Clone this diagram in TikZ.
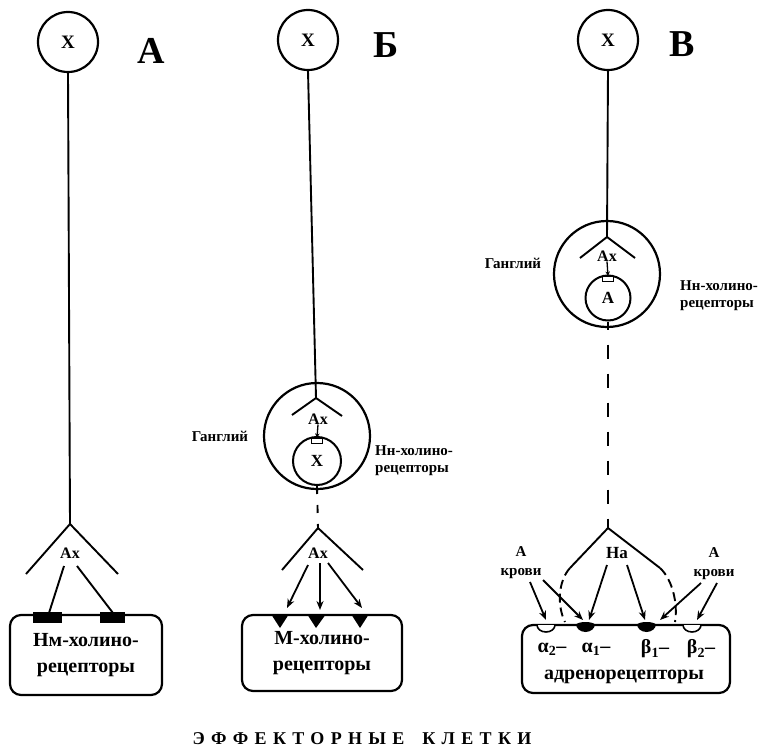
\documentclass[tikz,border=0pt]{standalone}
\usepackage{fontspec}
\setmainfont{Liberation Serif}
\newfontface\spacedbold[LetterSpace=35]{Liberation Serif Bold}
\usetikzlibrary{arrows.meta}
\tikzset{
  neur/.style={circle, draw, line width=2.2pt, inner sep=0pt},
  ax/.style={line width=1.9pt},
  cellbox/.style={draw, rounded corners=11pt, line width=2.2pt, inner sep=0pt, align=center},
  arr/.style={line width=1.8pt, -{Stealth[length=9pt,width=7pt]}},
  sarr/.style={line width=1.3pt, -{Stealth[length=4.5pt,width=4.5pt]}},
  fX/.style={font=\bfseries\fontsize{19}{19}\selectfont},
  fXs/.style={font=\bfseries\fontsize{17}{17}\selectfont},
  big/.style={font=\bfseries\fontsize{38}{38}\selectfont},
  axl/.style={font=\bfseries\fontsize{16}{16}\selectfont, inner sep=0pt},
  side/.style={font=\bfseries\fontsize{15}{17}\selectfont, align=left, inner sep=0pt},
  gangl/.style={font=\bfseries\fontsize{15}{17}\selectfont, inner sep=0pt},
  boxt/.style={font=\bfseries\fontsize{20}{26}\selectfont},
  rtxt/.style={font=\bfseries\fontsize{20}{20}\selectfont, inner sep=0pt},
  blood/.style={font=\bfseries\fontsize{15}{19}\selectfont, align=center, inner sep=0pt},
  dsh/.style={line width=1.9pt, dash pattern=on 9pt off 5pt},
  rect/.style={draw, line width=1.2pt, minimum width=11pt, minimum height=5pt, inner sep=0pt},
}
\begin{document}
\begin{tikzpicture}[x=1pt,y=-1pt]
\useasboundingbox (0,0) rectangle (766,749);

% ---------------- Panel A ----------------
\node[neur, minimum size=60pt, fX] (nA) at (68,42) {X};
\node[big] (tA) at (151,51) {А};
\coordinate (vA) at (70,524);
\coordinate (lA) at (26,574);
\coordinate (rA) at (118,574);
\draw[ax] (nA.south) -- (vA);
\draw[ax] (lA) -- (vA) -- (rA);
\node[axl] (axA) at (70,553) {Ах};
\coordinate (a1s) at (64,566); \coordinate (a1e) at (49,613);
\coordinate (a2s) at (77,566); \coordinate (a2e) at (113,613);
\draw[ax] (a1s) -- (a1e);
\draw[ax] (a2s) -- (a2e);
\node[cellbox, minimum width=152pt, minimum height=80pt, boxt] (bA) at (86,655) {Нм-холино-\\рецепторы};
\fill (33,612) rectangle (62,623);
\fill (100,612) rectangle (125,623);

% ---------------- Panel B ----------------
\node[neur, minimum size=60pt, fX] (nB) at (308,40) {X};
\node[big] (tB) at (386,45) {Б};
\node[neur, minimum size=106pt] (gB) at (317,436) {};
\coordinate (vB) at (316,398);
\draw[ax] (nB.south) -- (vB);
\coordinate (lB) at (292,415); \coordinate (rB) at (342,416);
\draw[ax] (lB) -- (vB) -- (rB);
\node[axl] (axB) at (318,419) {Ах};
\node[neur, minimum size=48pt, line width=2pt, fXs] (iB) at (317,461) {X};
\node[rect] (rcB) at (317,441) {};
\draw[sarr] (axB.south) -- (rcB.north);
\coordinate (v2B) at (318,528);
\draw[ax, dash pattern=on 8pt off 11pt] (iB.south) -- (v2B);
\coordinate (lB2) at (282,570); \coordinate (rB2) at (363,570);
\draw[ax] (lB2) -- (v2B) -- (rB2);
\node[axl] (axB2) at (318,553) {Ах};
\coordinate (b1s) at (308,565); \coordinate (b1e) at (287,608);
\coordinate (b2s) at (320,563); \coordinate (b2e) at (320,610);
\coordinate (b3s) at (328,563); \coordinate (b3e) at (362,608);
\draw[arr] (b1s) -- (b1e);
\draw[arr] (b2s) -- (b2e);
\draw[arr] (b3s) -- (b3e);
\node[cellbox, minimum width=160pt, minimum height=76pt, boxt] (bB) at (322,653) {М-холино-\\рецепторы};
\fill (271,614) -- (289,614) -- (280,628) -- cycle;
\fill (307,614) -- (326,614) -- (316,628) -- cycle;
\fill (351,614) -- (369,614) -- (360,628) -- cycle;
\node[gangl] (gLB) at (220,436) {Ганглий};
\node[side, anchor=west] (hB) at (375,461) {Нн-холино-\\рецепторы};

% ---------------- Panel C ----------------
\node[neur, minimum size=60pt, fX] (nC) at (608,40) {X};
\node[big] (tC) at (682,44) {В};
\node[neur, minimum size=106pt] (gC) at (607,274) {};
\coordinate (vC) at (607,237);
\draw[ax] (nC.south) -- (vC);
\coordinate (lC) at (580,258); \coordinate (rC) at (635,258);
\draw[ax] (lC) -- (vC) -- (rC);
\node[axl] (axC) at (607,256) {Ах};
\node[neur, minimum size=45pt, line width=2pt, fXs] (iC) at (608,298) {А};
\node[rect] (rcC) at (608,279) {};
\draw[sarr] (axC.south) -- (rcC.north);
\coordinate (v2C) at (608,528);
\draw[ax, dash pattern=on 14pt off 15pt, dash phase=6pt] (iC.south) -- (v2C);
\coordinate (lC2) at (570,568); \coordinate (rC2) at (660,568);
\draw[ax] (lC2) -- (v2C) -- (rC2);
\coordinate (lC3) at (565,622); \coordinate (rC3) at (675,622);
\draw[dsh] (lC2) .. controls (558,581) and (557,606) .. (lC3);
\draw[dsh] (rC2) .. controls (673,580) and (678,605) .. (rC3);
\node[axl, font=\bfseries\fontsize{17}{17}\selectfont] (naC) at (617,553) {На};
\node[blood] (kL) at (521,563) {А\\крови};
\node[blood] (kR) at (714,564) {А\\крови};
\node[gangl] (gLC) at (513,263) {Ганглий};
\node[side, anchor=west] (hC) at (680,296) {Нн-холино-\\рецепторы};
% box and receptors
\node[cellbox, minimum width=208pt, minimum height=68pt] (bC) at (626,659) {};
\filldraw[fill=white, line width=1.6pt] (537,625) arc[start angle=180, end angle=360, x radius=9pt, y radius=7pt];
\fill (576,624) arc[start angle=180, end angle=360, x radius=9.5pt, y radius=8pt] -- cycle;
\fill (576,625) arc[start angle=180, end angle=0, x radius=9.5pt, y radius=3pt] -- cycle;
\fill (637,624) arc[start angle=180, end angle=360, x radius=9.5pt, y radius=8pt] -- cycle;
\fill (637,625) arc[start angle=180, end angle=0, x radius=9.5pt, y radius=3pt] -- cycle;
\filldraw[fill=white, line width=1.6pt] (683,625) arc[start angle=180, end angle=360, x radius=9pt, y radius=7pt];
\coordinate (ra2) at (546,620); \coordinate (ra1) at (583,620);
\coordinate (rb1) at (645,620); \coordinate (rb2) at (697,620);
\coordinate (ra1b) at (589,620); \coordinate (rb1b) at (660,620);
\coordinate (kL1) at (530,582); \coordinate (kL2) at (543,580);
\coordinate (na1) at (607,565); \coordinate (na2) at (627,565);
\coordinate (kR1) at (701,583); \coordinate (kR2) at (717,583);
\draw[arr] (kL1) -- (ra2);
\draw[arr] (kL2) -- (ra1);
\draw[arr] (na1) -- (ra1b);
\draw[arr] (na2) -- (rb1);
\draw[arr] (kR1) -- (rb1b);
\draw[arr] (kR2) -- (rb2);
\node[rtxt] (al2) at (552,649) {α\textsubscript{2}–};
\node[rtxt] (al1) at (596,649) {α\textsubscript{1}–};
\node[rtxt] (be1) at (655,649) {β\textsubscript{1}–};
\node[rtxt] (be2) at (701,649) {β\textsubscript{2}–};
\node[boxt, inner sep=0pt] (adr) at (624,677) {адренорецепторы};

% ---------------- Bottom ----------------
\node[font=\spacedbold\fontsize{18}{18}\selectfont] (eff) at (362,739) {ЭФФЕКТОРНЫЕ\hspace{18pt}КЛЕТКИ};
\end{tikzpicture}
\end{document}
